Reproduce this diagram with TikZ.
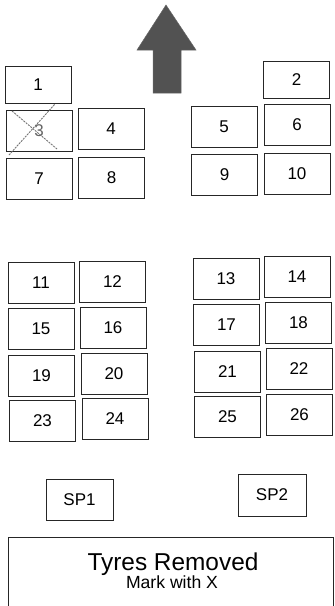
\documentclass[tikz,border=0pt]{standalone}
\usepackage{fontspec}
\setmainfont{Liberation Sans}
\begin{document}
\begin{tikzpicture}[x=1pt,y=-1pt,
  slot/.style={draw=black!85,line width=1pt,minimum width=66pt,minimum height=41pt,inner sep=0pt,font=\fontsize{17}{17}\selectfont,text=black},
  shortslot/.style={slot,minimum height=37pt},
  spare/.style={slot,minimum width=67pt,minimum height=41pt},
  cross/.style={draw=black!55,line width=0.9pt,dash pattern=on 2pt off 1pt},
  arrowfill/.style={fill=black!68,draw=black!60,line width=0.5pt}]
\useasboundingbox (0,0) rectangle (335,606);
% direction arrow
\fill[arrowfill] (153,93) -- (153,50) -- (137,50) -- (166,5) -- (196,50) -- (181,50) -- (181,93) -- cycle;
% left block
\node[shortslot] (b1) at (38,85) {1};
\node[slot] (b3) at (39,131) {};
\node[slot] (b4) at (111,129) {4};
\node[slot] (b7) at (39,179) {7};
\node[slot] (b8) at (111.5,178) {8};
% right block
\node[shortslot] (b2) at (296.5,79.5) {2};
\node[slot] (b5) at (224,127) {5};
\node[slot] (b6) at (297,125) {6};
\node[slot] (b9) at (224.5,175) {9};
\node[slot] (b10) at (297,173.5) {10};
% crossed-out slot 3
\node[font=\fontsize{17}{17}\selectfont,text=black!60] (n3) at (b3.center) {3};
\coordinate (x1a) at (12,111);
\coordinate (x1b) at (57,149);
\coordinate (x2a) at (9,155);
\coordinate (x2b) at (55,104);
\draw[cross] (x1a) -- (x1b);
\draw[cross] (x2a) -- (x2b);
% lower left block
\node[slot] (b11) at (41,283) {11};
\node[slot] (b12) at (112.5,282) {12};
\node[slot] (b15) at (41,329) {15};
\node[slot] (b16) at (113,327.5) {16};
\node[slot] (b19) at (41.5,375.5) {19};
\node[slot] (b20) at (114,373.5) {20};
\node[slot] (b23) at (42.5,421) {23};
\node[slot] (b24) at (115,419) {24};
% lower right block
\node[slot] (b13) at (226,279) {13};
\node[slot] (b14) at (297,277) {14};
\node[slot] (b17) at (226.5,324.5) {17};
\node[slot] (b18) at (298.5,323) {18};
\node[slot] (b21) at (227.5,371.5) {21};
\node[slot] (b22) at (299,369) {22};
\node[slot] (b25) at (227.5,417) {25};
\node[slot] (b26) at (299.5,414.5) {26};
% spares
\node[spare] (sp1) at (79.5,499.5) {SP1};
\node[spare,minimum width=68pt,minimum height=42pt] (sp2) at (272,495) {SP2};
% legend
\node[draw=black!85,line width=1pt,minimum width=325pt,minimum height=80pt,inner sep=0pt] (legend) at (170.5,577.5) {};
\node[font=\fontsize{24.4}{24}\selectfont,text=black] (title) at (173,564) {Tyres Removed};
\node[font=\fontsize{17.6}{18}\selectfont,text=black] (sub) at (172,582) {Mark with X};
\end{tikzpicture}
\end{document}
